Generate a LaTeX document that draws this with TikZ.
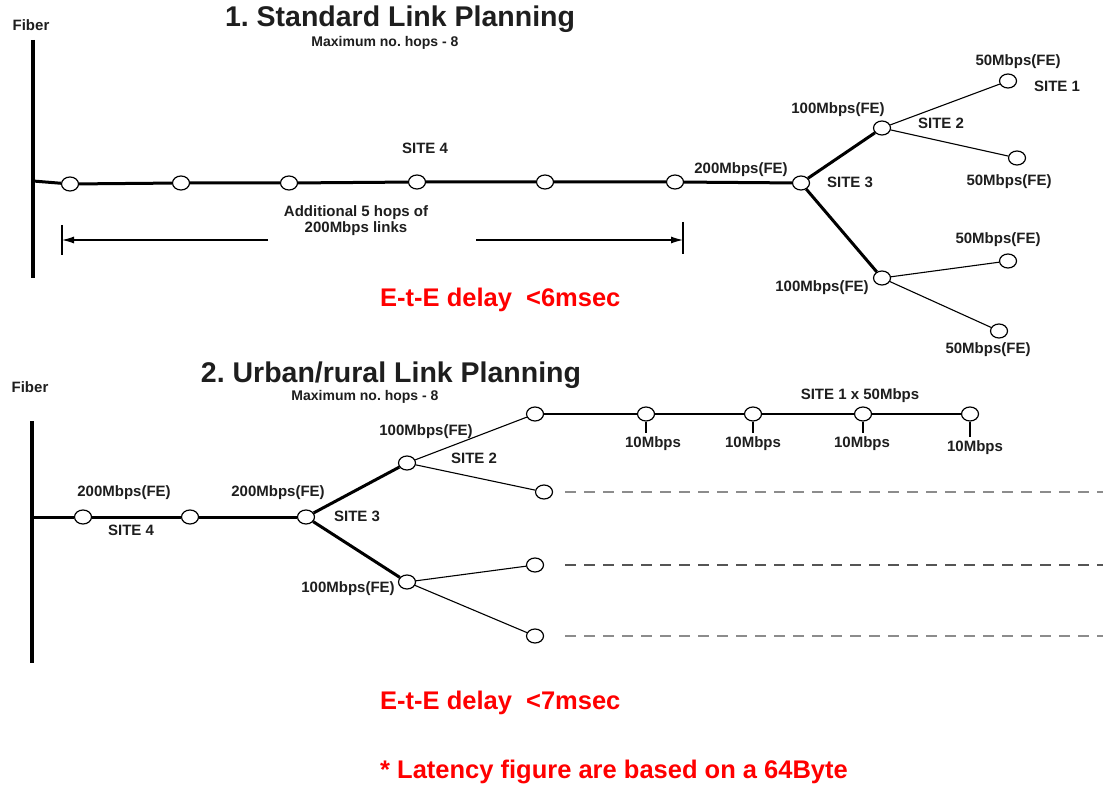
\documentclass[tikz,border=0pt]{standalone}
\usepackage{fontspec}
\setmainfont{Liberation Sans}
\usetikzlibrary{shapes.geometric,arrows.meta}
\definecolor{txt}{HTML}{1E1E1E}
\definecolor{dashA}{HTML}{8C8C8C}
\definecolor{dashB}{HTML}{555555}
\frenchspacing
\tikzset{
  hop/.style={ellipse,draw=black,fill=white,line width=1.2pt,minimum width=17pt,minimum height=14pt,inner sep=0pt},
  lbl/.style={font=\fontsize{15}{15}\selectfont\bfseries,text=txt,inner sep=0pt},
  ttl/.style={font=\fontsize{28.5}{28.5}\selectfont\bfseries,text=txt,inner sep=0pt},
  sub/.style={font=\fontsize{14}{14}\selectfont\bfseries,text=txt,inner sep=0pt},
  redtxt/.style={font=\fontsize{25.5}{25.5}\selectfont\bfseries,text=red,inner sep=0pt,anchor=west},
  thickln/.style={line width=3pt},
  thinln/.style={line width=1.1pt},
  fiberln/.style={line width=3.5pt},
  dashln/.style={line width=2.2pt,dash pattern=on 11pt off 8pt}
}
\begin{document}
\begin{tikzpicture}[x=1pt,y=-1pt]
\useasboundingbox[fill=white] (0,0) rectangle (1103,786);
% ---------------- Part 1 ----------------
\node[ttl] (t1) at (400,19) {1. Standard Link Planning};
\node[sub] (s1) at (385,43) {Maximum no. hops - 8};
\node[lbl] (fib1) at (31,25) {Fiber};
\coordinate (f1top) at (33,40);
\coordinate (f1bot) at (33,278);
\coordinate (f1j) at (33,181);
\draw[fiberln] (f1top) -- (f1bot);
\node[hop] (a1) at (70,184) {};
\node[hop] (a2) at (181,183) {};
\node[hop] (a3) at (289,183) {};
\node[hop] (a4) at (417,182) {};
\node[hop] (a5) at (545,182) {};
\node[hop] (a6) at (675,182) {};
\node[hop] (a7) at (801,183) {};
\node[hop] (b2) at (882,128) {};
\node[hop] (b1) at (1008,81) {};
\node[hop] (b3) at (1017,158) {};
\node[hop] (c2) at (882,278) {};
\node[hop] (c1) at (1008,261) {};
\node[hop] (c3) at (999,331) {};
\draw[thickln] (f1j) -- (a1) -- (a2) -- (a3) -- (a4) -- (a5) -- (a6) -- (a7);
\draw[thickln] (a7) -- (b2);
\draw[thickln] (a7) -- (c2);
\draw[thinln] (b2) -- (b1);
\draw[thinln] (b2) -- (b3);
\draw[thinln] (c2) -- (c1);
\draw[thinln] (c2) -- (c3);
\node[lbl] (l4) at (425,148) {SITE 4};
\node[lbl] (l200) at (741,170) {200Mbps(FE)};
\node[lbl] (ls3) at (850,182) {SITE 3};
\node[lbl] (l100a) at (838,110) {100Mbps(FE)};
\node[lbl] (ls2) at (941,123) {SITE 2};
\node[lbl] (l50a) at (1018,62) {50Mbps(FE)};
\node[lbl] (ls1) at (1057,86) {SITE 1};
\node[lbl] (l50b) at (1009,182) {50Mbps(FE)};
\node[lbl] (l100b) at (822,288) {100Mbps(FE)};
\node[lbl] (l50c) at (998,240) {50Mbps(FE)};
\node[lbl] (l50d) at (988,350) {50Mbps(FE)};
\node[lbl,align=center] (addl) at (356,221) {Additional 5 hops of\\[1pt]200Mbps links};
\coordinate (arL) at (62,240);
\coordinate (arLs) at (268,240);
\coordinate (arRs) at (476,240);
\coordinate (arR) at (683,240);
\coordinate (tkLt) at (62,225);
\coordinate (tkLb) at (62,255);
\coordinate (tkRt) at (683,222);
\coordinate (tkRb) at (683,254);
\draw[thinln,-{Latex[length=12pt,width=7pt]}] (arLs) -- (arL);
\draw[thinln,-{Latex[length=12pt,width=7pt]}] (arRs) -- (arR);
\draw[thinln] (tkLt) -- (tkLb);
\draw[thinln] (tkRt) -- (tkRb);
\node[redtxt] (red1) at (380,300) {E-t-E delay\ \ <6msec};
% ---------------- Part 2 ----------------
\node[ttl] (t2) at (391,375) {2. Urban/rural Link Planning};
\node[sub] (s2) at (365,397) {Maximum no. hops - 8};
\node[lbl] (fib2) at (30,387) {Fiber};
\coordinate (f2top) at (32,421);
\coordinate (f2bot) at (32,663);
\coordinate (f2j) at (32,517);
\draw[fiberln] (f2top) -- (f2bot);
\node[hop] (d1) at (83,517) {};
\node[hop] (d2) at (190,517) {};
\node[hop] (d3) at (306,517) {};
\node[hop] (e2) at (407,463) {};
\node[hop] (e1) at (535,414) {};
\node[hop] (e3) at (544,492) {};
\node[hop] (g2) at (407,582) {};
\node[hop] (g1) at (535,565) {};
\node[hop] (g3) at (535,636) {};
\node[hop] (r1) at (646,414) {};
\node[hop] (r2) at (753,414) {};
\node[hop] (r3) at (863,414) {};
\node[hop] (r4) at (970,414) {};
\draw[thickln] (f2j) -- (d1) -- (d2) -- (d3);
\draw[thickln] (d3) -- (e2);
\draw[thickln] (d3) -- (g2);
\draw[thinln] (e2) -- (e1);
\draw[thinln] (e2) -- (e3);
\draw[thinln] (g2) -- (g1);
\draw[thinln] (g2) -- (g3);
\draw[thinln] (e1) -- (r1) -- (r2) -- (r3) -- (r4);
\coordinate (t1e) at (646,433);
\coordinate (t2e) at (753,433);
\coordinate (t3e) at (863,433);
\coordinate (t4e) at (970,437);
\draw[thinln] (r1) -- (t1e);
\draw[thinln] (r2) -- (t2e);
\draw[thinln] (r3) -- (t3e);
\draw[thinln] (r4) -- (t4e);
\node[lbl] (m1) at (653,444) {10Mbps};
\node[lbl] (m2) at (753,444) {10Mbps};
\node[lbl] (m3) at (862,444) {10Mbps};
\node[lbl] (m4) at (975,448) {10Mbps};
\node[lbl] (s1x) at (860,396) {SITE 1 x 50Mbps};
\coordinate (dA1) at (565,492);
\coordinate (dA2) at (1103,492);
\coordinate (dB1) at (565,565);
\coordinate (dB2) at (1103,565);
\coordinate (dC1) at (565,636);
\coordinate (dC2) at (1103,636);
\draw[dashln,draw=dashA] (dA1) -- (dA2);
\draw[dashln,draw=dashB] (dB1) -- (dB2);
\draw[dashln,draw=dashA] (dC1) -- (dC2);
\node[lbl] (p200a) at (124,493) {200Mbps(FE)};
\node[lbl] (ps4) at (131,530) {SITE 4};
\node[lbl] (p200b) at (278,493) {200Mbps(FE)};
\node[lbl] (ps3) at (357,516) {SITE 3};
\node[lbl] (p100a) at (426,432) {100Mbps(FE)};
\node[lbl] (ps2) at (474,458) {SITE 2};
\node[lbl] (p100b) at (348,589) {100Mbps(FE)};
\node[redtxt] (red2) at (380,703) {E-t-E delay\ \ <7msec};
\node[redtxt] (red3) at (380,772) {* Latency figure are based on a 64Byte};
\end{tikzpicture}
\end{document}
